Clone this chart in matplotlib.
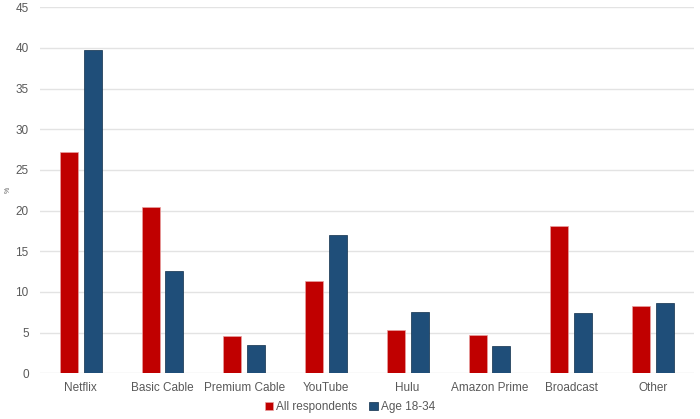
import numpy as np
from matplotlib import pyplot as plt

categories = ["Netflix", "Basic Cable", "Premium Cable", "YouTube", "Hulu",
              "Amazon Prime", "Broadcast", "Other"]
all_respondents = [27.2, 20.4, 4.6, 11.4, 5.3, 4.7, 18.1, 8.3]
age_18_34 = [39.7, 12.6, 3.5, 17.0, 7.5, 3.3, 7.4, 8.7]
series_names = ["All respondents", "Age 18-34"]
y_ticks = [0, 5, 10, 15, 20, 25, 30, 35, 40, 45]

plt.rcParams['font.family'] = ['Liberation Sans', 'DejaVu Sans']
text_col = "#595959"

fig = plt.figure(figsize=(7, 4.19), dpi=100)
ax = fig.add_axes([0.057, 0.109, 0.934, 0.8736])

x = np.arange(len(categories))
w = 0.22
ax.bar(x - 0.145, all_respondents, w, color="#C00000", edgecolor="#e8a0a0",
       linewidth=0.5, label=series_names[0], zorder=3)
ax.bar(x + 0.145, age_18_34, w, color="#1F4E79", edgecolor="#0f2e4a",
       linewidth=0.5, label=series_names[1], zorder=3)

ax.set_xlim(-0.5, len(categories) - 0.5)
ax.set_ylim(0, 45)
ax.set_yticks(y_ticks)
ax.set_xticks(x)
ax.set_xticklabels(categories)
ax.tick_params(axis="both", length=0, colors=text_col, labelsize=8.5)
ax.tick_params(axis="y", pad=8)
ax.tick_params(axis="x", pad=6)
ax.grid(axis="y", color="#e3e3e3", linewidth=1, zorder=0)
for s in ax.spines.values():
    s.set_visible(False)

ax.set_ylabel("%", fontsize=5, color=text_col)
ax.yaxis.set_label_coords(-0.043, 0.5)

fig.legend(loc="center", bbox_to_anchor=(0.5, 0.028), ncol=2, frameon=False,
           fontsize=8.5, labelcolor=text_col, handlelength=0.7, handleheight=0.7,
           handletextpad=0.3, columnspacing=1.0)

fig.savefig("out.png", dpi=100)
